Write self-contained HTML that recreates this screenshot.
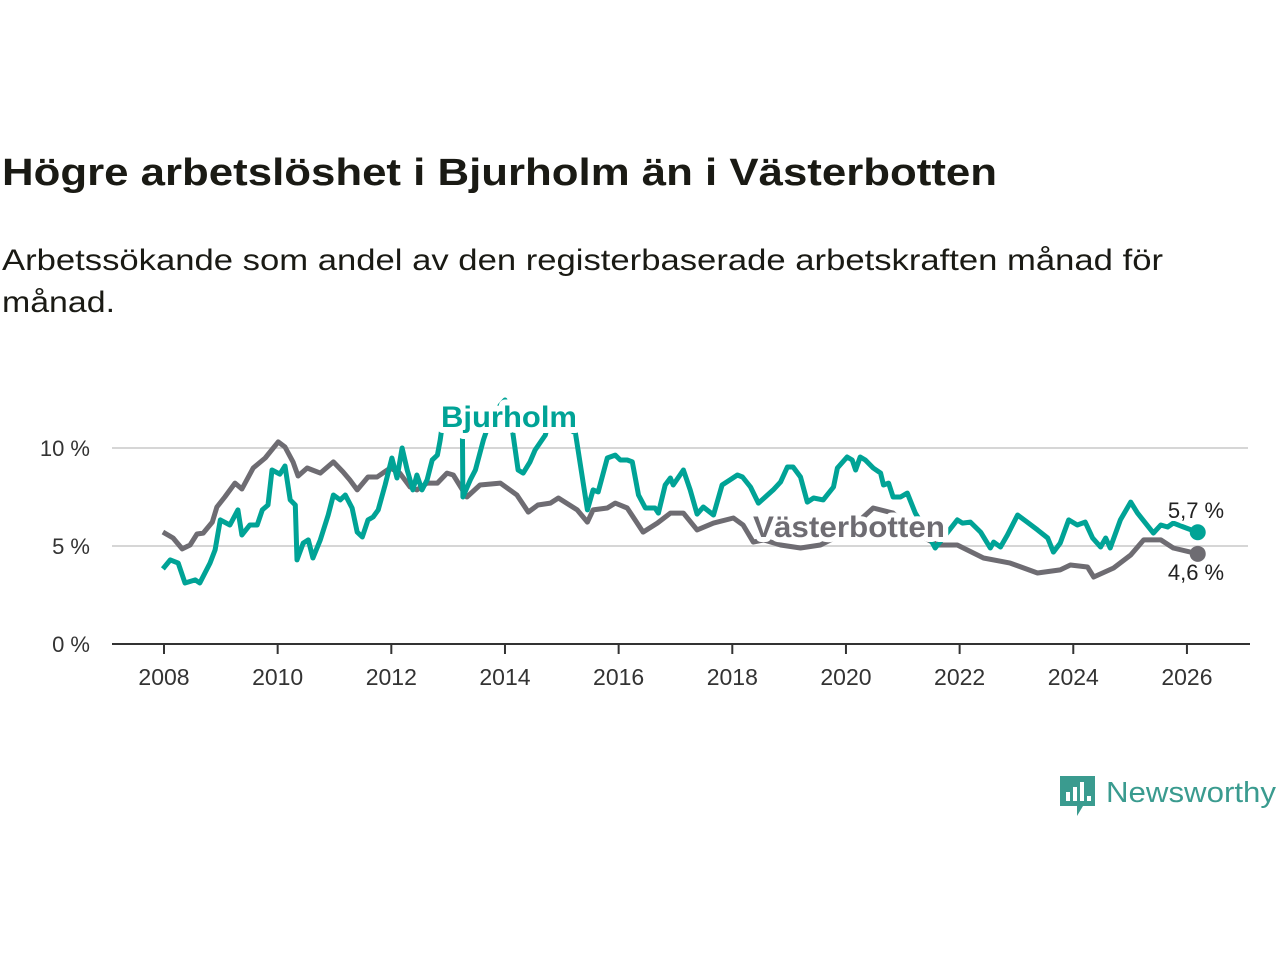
<!DOCTYPE html>
<html><head><meta charset="utf-8"><style>
html,body{margin:0;padding:0;background:#fff;}
svg{display:block;font-family:"Liberation Sans",sans-serif;}
</style></head><body>
<svg id="chart" width="1280" height="960" viewBox="0 0 1280 960">
<text x="2" y="185" font-size="38" font-weight="bold" fill="#1a1a14" textLength="995" lengthAdjust="spacingAndGlyphs">Högre arbetslöshet i Bjurholm än i Västerbotten</text>
<text x="2" y="270" font-size="30" fill="#1a1a14" textLength="1161" lengthAdjust="spacingAndGlyphs">Arbetssökande som andel av den registerbaserade arbetskraften månad för</text>
<text x="2" y="312" font-size="30" fill="#1a1a14" textLength="113" lengthAdjust="spacingAndGlyphs">månad.</text>
<g id="grid"></g><g id="xaxis"></g><g id="series"></g><g id="labels"></g>
<g>
<path d="M1060 776 h35 v30 h-12 l-6 10 v-10 h-17 z" fill="#3a9b8f"/>
<rect x="1066" y="792" width="4" height="9" fill="#fff"/><rect x="1073" y="787" width="4" height="14" fill="#fff"/><rect x="1080" y="782" width="4" height="19" fill="#fff"/><rect x="1087" y="796" width="4" height="5" fill="#fff"/>
<text x="1106" y="802" font-size="29" fill="#3a9b8f" textLength="170" lengthAdjust="spacingAndGlyphs">Newsworthy</text>
</g>
</svg>
<script>
const yTicks=[0,5,10];
const yTickLabels=["0 %","5 %","10 %"];
const xTicks=[2008,2010,2012,2014,2016,2018,2020,2022,2024,2026];
const vbDates=[2007.98,2008.16,2008.32,2008.46,2008.58,2008.69,2008.85,2008.93,2009.07,2009.25,2009.37,2009.57,2009.78,2010.01,2010.13,2010.27,2010.36,2010.52,2010.61,2010.75,2010.98,2011.15,2011.27,2011.40,2011.59,2011.75,2011.98,2012.15,2012.33,2012.45,2012.63,2012.81,2012.98,2013.09,2013.33,2013.56,2013.92,2014.21,2014.41,2014.58,2014.80,2014.94,2015.27,2015.45,2015.55,2015.80,2015.94,2016.15,2016.43,2016.68,2016.91,2017.14,2017.38,2017.67,2018.02,2018.19,2018.37,2018.55,2018.85,2019.20,2019.55,2019.90,2020.25,2020.48,2020.83,2021.13,2021.61,2021.96,2022.42,2022.89,2023.37,2023.77,2023.95,2024.25,2024.36,2024.71,2025.01,2025.24,2025.54,2025.76,2026.19];
const vbValues=[5.71,5.41,4.85,5.05,5.61,5.66,6.22,6.99,7.50,8.21,7.91,8.98,9.49,10.31,10.05,9.29,8.57,8.98,8.88,8.72,9.29,8.78,8.37,7.86,8.52,8.52,8.98,8.72,8.01,7.86,8.21,8.21,8.72,8.62,7.50,8.11,8.21,7.60,6.73,7.09,7.19,7.45,6.84,6.22,6.84,6.94,7.19,6.94,5.71,6.17,6.68,6.68,5.82,6.17,6.43,6.07,5.20,5.31,5.05,4.90,5.05,5.56,6.33,6.94,6.68,5.82,5.05,5.05,4.39,4.13,3.62,3.78,4.03,3.93,3.42,3.88,4.54,5.31,5.31,4.90,4.6];
const bjDates=[2007.98,2008.11,2008.25,2008.37,2008.55,2008.63,2008.81,2008.90,2008.99,2009.16,2009.30,2009.37,2009.51,2009.64,2009.73,2009.83,2009.90,2010.04,2010.13,2010.22,2010.31,2010.34,2010.45,2010.54,2010.62,2010.75,2010.89,2010.98,2011.10,2011.19,2011.31,2011.40,2011.49,2011.59,2011.68,2011.77,2011.89,2012.01,2012.10,2012.19,2012.28,2012.38,2012.45,2012.54,2012.63,2012.72,2012.81,2012.86,2012.91,2012.98,2013.07,2013.18,2013.25,2013.26,2013.39,2013.48,2013.62,2013.74,2013.92,2014.00,2014.13,2014.23,2014.32,2014.44,2014.53,2014.71,2014.80,2014.92,2015.06,2015.15,2015.24,2015.45,2015.55,2015.64,2015.80,2015.94,2016.03,2016.15,2016.24,2016.35,2016.47,2016.64,2016.70,2016.82,2016.91,2016.96,2017.14,2017.26,2017.38,2017.49,2017.67,2017.82,2017.96,2018.09,2018.18,2018.32,2018.46,2018.58,2018.72,2018.85,2018.97,2019.07,2019.20,2019.32,2019.43,2019.60,2019.78,2019.85,2020.02,2020.11,2020.17,2020.25,2020.34,2020.48,2020.61,2020.66,2020.75,2020.83,2020.96,2021.08,2021.22,2021.40,2021.57,2021.96,2022.05,2022.19,2022.37,2022.54,2022.60,2022.72,2022.84,2023.02,2023.19,2023.37,2023.55,2023.65,2023.77,2023.92,2024.07,2024.21,2024.34,2024.48,2024.57,2024.65,2024.83,2025.01,2025.13,2025.41,2025.54,2025.66,2025.76,2025.94,2026.19];
const bjValues=[3.83,4.29,4.13,3.11,3.27,3.11,4.13,4.80,6.33,6.07,6.84,5.56,6.07,6.07,6.84,7.09,8.88,8.67,9.08,7.35,7.09,4.29,5.15,5.31,4.39,5.31,6.58,7.60,7.35,7.60,6.94,5.71,5.46,6.33,6.48,6.84,8.11,9.49,8.47,10.0,8.88,7.86,8.62,7.86,8.37,9.39,9.64,10.41,11.43,12.2,11.43,12.0,10.92,7.50,8.37,8.88,10.41,11.43,12.19,12.45,10.92,8.88,8.72,9.29,9.90,10.66,11.68,12.0,11.9,10.92,10.77,6.84,7.86,7.76,9.49,9.64,9.39,9.39,9.29,7.60,6.94,6.94,6.68,8.11,8.47,8.11,8.88,7.86,6.63,6.99,6.58,8.11,8.37,8.62,8.52,8.01,7.19,7.50,7.86,8.27,9.03,9.03,8.52,7.24,7.45,7.35,8.01,8.98,9.54,9.39,8.88,9.54,9.39,8.98,8.72,8.11,8.21,7.50,7.50,7.70,6.68,5.82,4.90,6.33,6.17,6.22,5.71,4.90,5.20,4.95,5.56,6.58,6.22,5.82,5.41,4.69,5.15,6.33,6.07,6.22,5.41,4.95,5.41,4.90,6.33,7.24,6.68,5.66,6.07,5.97,6.17,5.97,5.7];
const NS='http://www.w3.org/2000/svg';
const xS=d=>164+(d-2008)*56.83;
const yS=v=>644-v*19.6;
function mk(tag,attrs,parent){const e=document.createElementNS(NS,tag);for(const k in attrs)e.setAttribute(k,attrs[k]);parent.appendChild(e);return e;}
const grid=document.getElementById('grid');
yTicks.forEach((t,i)=>{
  if(t>0){const l=mk('line',{x1:112,x2:1248,y1:yS(t),y2:yS(t),stroke:'#d6d6d6','stroke-width':2},grid);
  
  }
  const tx=mk('text',{x:90,y:yS(t)+8,'font-size':22,fill:'#333','text-anchor':'end'},grid);
  tx.textContent=yTickLabels[i];
  
  
});
const xa=document.getElementById('xaxis');
const ax=mk('line',{x1:112,x2:1250,y1:644,y2:644,stroke:'#333','stroke-width':2},xa);


xTicks.forEach(t=>{
  const tk=mk('line',{x1:xS(t),x2:xS(t),y1:644,y2:654,stroke:'#333','stroke-width':2},xa);
  
  
  const tx=mk('text',{x:xS(t),y:685,'font-size':23,fill:'#333','text-anchor':'middle'},xa);
  tx.textContent=String(t);
  
  
});
const sg=document.getElementById('series');
function line(dates,vals,color,name){
  const d=dates.map((x,i)=>(i?'L':'M')+xS(x).toFixed(1)+' '+yS(vals[i]).toFixed(1)).join(' ');
  const p=mk('path',{d:d,fill:'none',stroke:color,'stroke-width':5,'stroke-linejoin':'round'},sg);
  
  
  const n=dates.length-1;
  const c=mk('circle',{cx:xS(dates[n]),cy:yS(vals[n]),r:8,fill:color},sg);
  
  
}
line(vbDates,vbValues,'#6e6c72','vasterbotten');
line(bjDates,bjValues,'#00a396','bjurholm');
const lg=document.getElementById('labels');
function lab(x,y,txt,color,size,bold,name,anchor,len,sw){
  const t=mk('text',{x:x,y:y,'font-size':size,fill:color,'font-weight':bold?'bold':'normal',stroke:'#fff','stroke-width':sw,'paint-order':'stroke','stroke-linejoin':'round','text-anchor':anchor||'start'},lg);
  if(len){t.setAttribute('textLength',len);t.setAttribute('lengthAdjust','spacingAndGlyphs');}
  t.textContent=txt;
  
  
}
lab(509,427,'Bjurholm','#00a396',30,true,'bjurholm-label','middle',136,12);
lab(849,537,'Västerbotten','#6e6c72',30,true,'vasterbotten-label','middle',192,10);
lab(1196,518,'5,7 %','#222',22,false,'bjurholm-end-value','middle',0,6);
lab(1196,580,'4,6 %','#222',22,false,'vasterbotten-end-value','middle',0,6);
</script>
</body></html>
